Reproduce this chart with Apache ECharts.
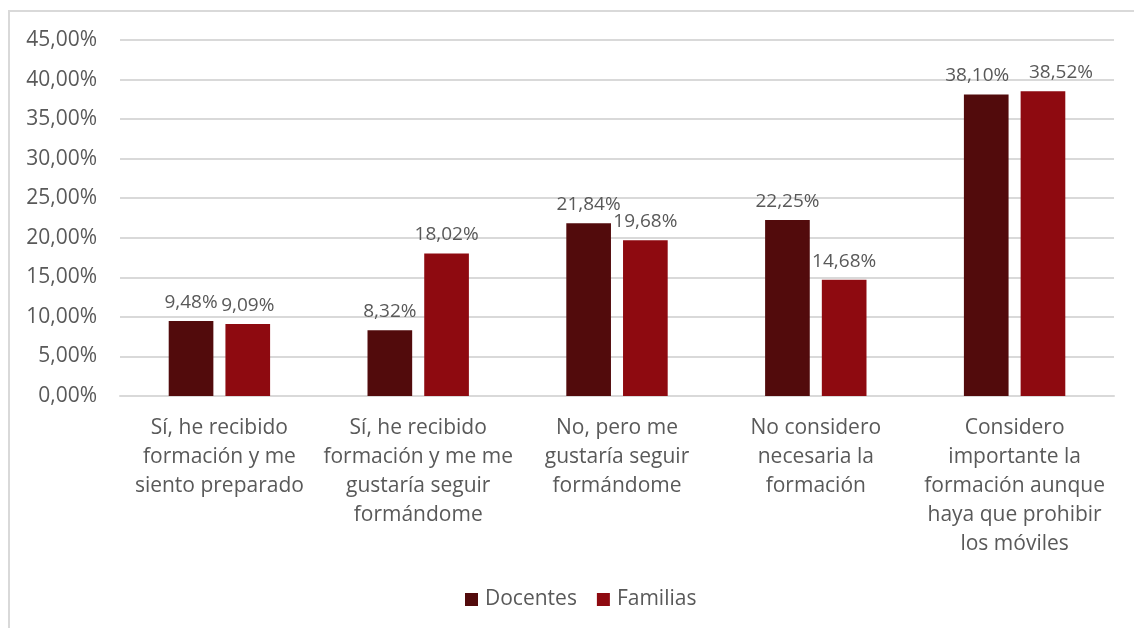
<!DOCTYPE html>
<html>
<head>
<meta charset="utf-8">
<script src="https://cdn.jsdelivr.net/npm/echarts@6/dist/echarts.min.js"></script>
<style>
  html, body { margin: 0; padding: 0; background: #fff; }
  #frame { position: absolute; left: 8px; top: 10px; width: 1126px; height: 618px;
           border-top: 2px solid #d9d9d9; border-left: 2px solid #d9d9d9; box-sizing: border-box; }
  #chart { position: absolute; left: 0; top: 0; width: 1134px; height: 628px; }
</style>
</head>
<body>
<div id="frame"></div>
<div id="chart"></div>
<script>
const categories = [
  'Sí, he recibido\nformación y me\nsiento preparado',
  'Sí, he recibido\nformación y me me\ngustaría seguir\nformándome',
  'No, pero me\ngustaría seguir\nformándome',
  'No considero\nnecesaria la\nformación',
  'Considero\nimportante la\nformación aunque\nhaya que prohibir\nlos móviles'
];
const docentes = [9.48, 8.32, 21.84, 22.25, 38.10];
const familias = [9.09, 18.02, 19.68, 14.68, 38.52];

const fmt = v => v.toFixed(2).replace('.', ',') + '%';
const font = '"Open Sans", "Noto Sans", sans-serif';
const textColor = '#595959';

const chart = echarts.init(document.getElementById('chart'));

const barLabel = {
  show: true,
  position: 'top',
  distance: 9,
  fontSize: 19,
  color: textColor,
  fontFamily: font,
  formatter: p => fmt(p.value)
};

const option = {
  backgroundColor: 'transparent',
  animation: false,
  textStyle: { fontFamily: font },
  grid: { left: 120, right: 20, top: 40, bottom: 232, containLabel: false },
  legend: {
    bottom: 13,
    left: 460,
    icon: 'rect',
    itemWidth: 13,
    itemHeight: 13,
    itemGap: 20,
    textStyle: { fontSize: 21, color: textColor, fontFamily: font, padding: [0, 0, 0, 2] },
    data: ['Docentes', 'Familias']
  },
  xAxis: {
    type: 'category',
    data: categories,
    axisLine: { lineStyle: { color: '#d9d9d9', width: 2 } },
    axisTick: { show: false },
    axisLabel: {
      interval: 0,
      margin: 18,
      fontSize: 21,
      lineHeight: 29,
      color: textColor,
      fontFamily: font
    }
  },
  yAxis: {
    type: 'value',
    min: 0,
    max: 45,
    interval: 5,
    axisLine: { show: false },
    axisTick: { show: false },
    splitLine: { lineStyle: { color: '#d9d9d9', width: 2 } },
    axisLabel: {
      margin: 23,
      fontSize: 21,
      color: textColor,
      fontFamily: font,
      formatter: v => fmt(v)
    }
  },
  series: [
    {
      name: 'Docentes',
      type: 'bar',
      data: docentes,
      barGap: '27%',
      barCategoryGap: '49%',
      itemStyle: { color: '#520b0c' },
      label: barLabel,
      // last pair of labels would collide, push them apart like the original
      labelLayout: p => (p.dataIndex === 4 ? { dx: -9 } : {})
    },
    {
      name: 'Familias',
      type: 'bar',
      data: familias,
      itemStyle: { color: '#8e0a10' },
      label: barLabel,
      labelLayout: p => (p.dataIndex === 4 ? { dx: 18 } : {})
    }
  ]
};

chart.setOption(option);
</script>
</body>
</html>
